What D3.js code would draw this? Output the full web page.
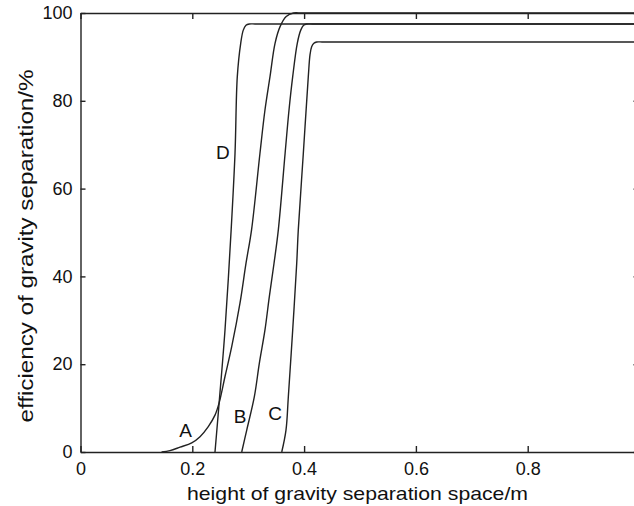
<!DOCTYPE html>
<html>
<head>
<meta charset="utf-8">
<script src="https://cdn.jsdelivr.net/npm/d3@7"></script>
<style>
  body { margin: 0; background: #fff; }
  svg { display: block; font-family: "Liberation Sans", Arial, sans-serif; }
  .axis path, .axis line { stroke: #222; stroke-width: 1.4; }
  .axis text { fill: #111; font-size: 18px; }
  .curve { fill: none; stroke: #222; stroke-width: 1.4; }
</style>
</head>
<body>
<svg id="chart"></svg>
<script>
var width = 634, height = 506;

// curve A
let xA = [0.145, 0.160, 0.178, 0.199, 0.2138, 0.2286, 0.2406, 0.248, 0.2585, 0.2705, 0.2853, 0.2961, 0.306, 0.321, 0.33, 0.339, 0.348, 0.357, 0.368, 0.381, 0.395, 0.41, 1.0];
let yA = [0, 0.3, 1.1, 2.1, 3.5, 5.8, 8.4, 11.2, 17.2, 24, 33.9, 43, 50.6, 68, 77.9, 85.5, 93.1, 96.9, 99.2, 100, 100, 100, 100];
// curve B
let xB = [0.2884, 0.2974, 0.311, 0.3199, 0.33, 0.3378, 0.3462, 0.3539, 0.366, 0.373, 0.3796, 0.3878, 0.394, 0.399, 0.4046, 0.415, 0.43, 1.0];
let yB = [0, 5, 12.6, 20.2, 27.8, 35.4, 43, 50.6, 68, 77.9, 85.5, 93.1, 96.1, 97.2, 97.5, 97.5, 97.5, 97.5];
// curve C
let xC = [0.36, 0.3676, 0.3718, 0.3796, 0.3868, 0.3896, 0.3986, 0.4075, 0.4106, 0.4135, 0.4175, 0.4225, 0.432, 0.445, 1.0];
let yC = [0, 5, 12.6, 27.8, 43, 50.6, 68, 85.5, 90.5, 92.3, 93.1, 93.4, 93.4, 93.4, 93.4];
// curve D
let xD = [0.2406, 0.248, 0.2585, 0.2695, 0.2764, 0.2805, 0.2866, 0.2912, 0.296, 0.302, 0.312, 0.325, 1.0];
let yD = [0, 11.2, 27.8, 50.6, 68, 85.5, 93.1, 96.1, 97.2, 97.5, 97.5, 97.5, 97.5];

let curveNames = ["A", "B", "C", "D"];
let labelX = [0.188, 0.2853, 0.348, 0.2549];
let labelY = [3.4, 6.6, 7.3, 66.7];

let xTicks = [0, 0.2, 0.4, 0.6, 0.8, 1];
let yTicks = [0, 20, 40, 60, 80, 100];

let xTitle = "height of gravity separation space/m";
let yTitle = "efficiency of gravity separation/%";

// plot frame runs past the right edge of the window, as in the source figure
let margin = {left: 80.5, top: 13, right: 639.5, bottom: 452};

let svg = d3.select("#chart").attr("width", width).attr("height", height);

let x = d3.scaleLinear().domain([0, 1]).range([margin.left, margin.right]);
let y = d3.scaleLinear().domain([0, 100]).range([margin.bottom, margin.top]);

let fmtX = function (d) {
	if (d === 0) return "0";
	if (d === 1) return "";
	return d3.format(".1f")(d);
};

svg.append("g").attr("class", "axis")
	.attr("transform", "translate(0," + margin.bottom + ")")
	.call(d3.axisBottom(x).tickValues(xTicks).tickFormat(fmtX).tickSizeInner(-6).tickSizeOuter(0).tickPadding(10));

svg.append("g").attr("class", "axis")
	.attr("transform", "translate(0," + margin.top + ")")
	.call(d3.axisTop(x).tickValues(xTicks).tickFormat("").tickSizeInner(-6).tickSizeOuter(0));

svg.append("g").attr("class", "axis")
	.attr("transform", "translate(" + margin.left + ",0)")
	.call(d3.axisLeft(y).tickValues(yTicks).tickSizeInner(-5).tickSizeOuter(0).tickPadding(8));

svg.append("g").attr("class", "axis")
	.attr("transform", "translate(" + margin.right + ",0)")
	.call(d3.axisRight(y).tickValues(yTicks).tickFormat("").tickSizeInner(-6).tickSizeOuter(0));

let line = d3.line()
	.x(function (d) { return x(d[0]); })
	.y(function (d) { return y(d[1]); })
	.curve(d3.curveCatmullRom.alpha(0.5));

let series = [d3.zip(xA, yA), d3.zip(xB, yB), d3.zip(xC, yC), d3.zip(xD, yD)];

svg.append("g").selectAll("path")
	.data(series)
	.enter()
	.append("path")
	.attr("class", "curve")
	.attr("d", line);

svg.append("g").selectAll("text")
	.data(curveNames)
	.enter()
	.append("text")
	.attr("x", function (d, i) { return x(labelX[i]); })
	.attr("y", function (d, i) { return y(labelY[i]); })
	.attr("text-anchor", "middle")
	.attr("font-size", 19)
	.attr("fill", "#111")
	.text(function (d) { return d; });

svg.append("text")
	.attr("x", 357.5)
	.attr("y", 500)
	.attr("text-anchor", "middle")
	.attr("font-size", 19)
	.attr("fill", "#111")
	.attr("textLength", 341)
	.attr("lengthAdjust", "spacingAndGlyphs")
	.text(xTitle);

svg.append("text")
	.attr("transform", "translate(33,246) rotate(-90)")
	.attr("text-anchor", "middle")
	.attr("font-size", 20)
	.attr("fill", "#111")
	.attr("textLength", 353)
	.attr("lengthAdjust", "spacingAndGlyphs")
	.text(yTitle);
</script>
</body>
</html>
